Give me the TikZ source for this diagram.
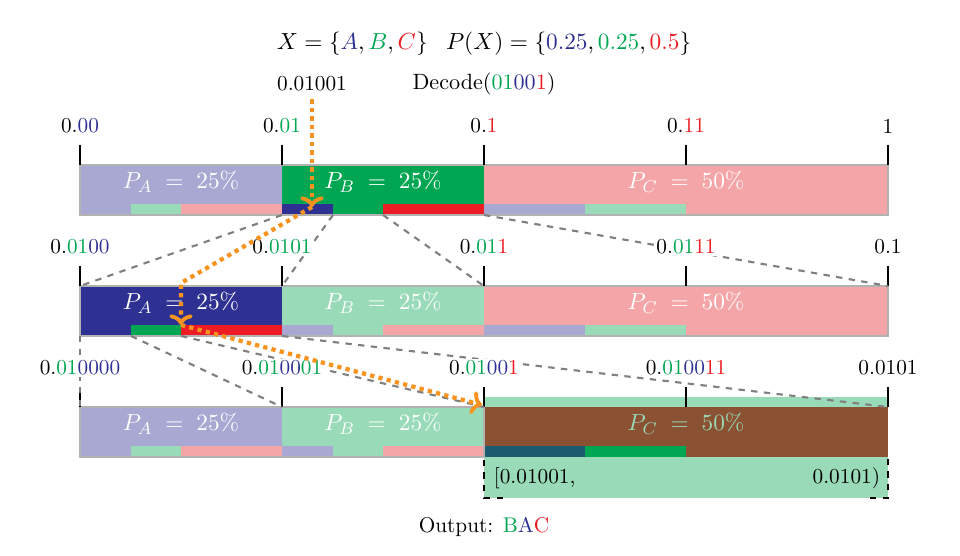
\documentclass[tikz,border=0pt]{standalone}
\usepackage{tikz}
\usetikzlibrary{arrows.meta}
\definecolor{darkA}{HTML}{2E3192}
\definecolor{lightA}{HTML}{A8A8D2}
\definecolor{darkB}{HTML}{00A651}
\definecolor{lightB}{HTML}{99DAB8}
\definecolor{darkC}{HTML}{ED1C24}
\definecolor{lightC}{HTML}{F4A5A8}
\definecolor{chosenC}{HTML}{8A5133}
\definecolor{chosenA}{HTML}{1C5B70}
\definecolor{walk}{HTML}{F7931E}
\tikzset{
every picture/.style={x=0.47pt, y=-0.47pt, line width=0.8pt},
%%%%%%%%%%  Node styles
bound/.style={inner sep=1pt, fill=white},
prob/.style={text=white, font=\fontsize{10.8}{13}\selectfont},
%%%% different line styles:
tick/.style={line width=1.2pt},
outline/.style={draw=black!30, line width=0.5pt},
zoomline/.style={dashed, black!50, line width=1pt},
frame/.style={dashed, line width=1.2pt},
decode/.style={walk, dotted, line width=2pt,
               -{Computer Modern Rightarrow[length=5pt,width=11pt,line width=1.8pt]}},
}
\newcommand{\colA}[1]{{\color{darkA}#1}}
\newcommand{\colB}[1]{{\color{darkB}#1}}
\newcommand{\colC}[1]{{\color{darkC}#1}}
%%%%%%% one interval: left, right, top, fill, strip colours
\newcommand{\intervalbar}[7]{%
  \fill[#4] ({#1},{#3}) rectangle ({#2},{#3+50});
  \fill[#5] ({#1},{#3+39}) rectangle ({#1+0.25*(#2-#1)},{#3+50});
  \fill[#6] ({#1+0.25*(#2-#1)},{#3+39}) rectangle ({#1+0.5*(#2-#1)},{#3+50});
  \fill[#7] ({#1+0.5*(#2-#1)},{#3+39}) rectangle ({#2},{#3+50});
}

\begin{document}
\begin{tikzpicture}
\useasboundingbox (0,0) rectangle (960,556);
\node[font=\fontsize{10.8}{13}\selectfont] (title) at (484,44)
  {$X=\{\colA{A},\colB{B},\colC{C}\}\hspace{0.8em}P(X)=\{\colA{0.25},\colB{0.25},\colC{0.5}\}$};
\node (code) at (312,84) {0.01001};
\node[font=\fontsize{10.4}{12}\selectfont] (decode) at (484,84) {Decode(\colB{01}\colA{00}\colC{1})};
\fill[lightB] (484,397) rectangle (888,498);
\intervalbar{80}{282}{165}{lightA}{lightA}{lightB}{lightC}
\intervalbar{282}{484}{165}{darkB}{darkA}{darkB}{darkC}
\intervalbar{484}{888}{165}{lightC}{lightA}{lightB}{lightC}
\intervalbar{80}{282}{286}{darkA}{darkA}{darkB}{darkC}
\intervalbar{282}{484}{286}{lightB}{lightA}{lightB}{lightC}
\intervalbar{484}{888}{286}{lightC}{lightA}{lightB}{lightC}
\intervalbar{80}{282}{407}{lightA}{lightA}{lightB}{lightC}
\intervalbar{282}{484}{407}{lightB}{lightA}{lightB}{lightC}
\intervalbar{484}{888}{407}{chosenC}{chosenA}{darkB}{chosenC}
\draw[outline] (80,165) rectangle (888,215);
\draw[outline] (80,286) rectangle (888,336);
\draw[outline] (80,407) rectangle (484,457);
\foreach \r/\y in {1/165,2/286,3/407}
  \foreach \x [count=\i from 0] in {80,282,484,686,888}
    \draw[tick] (\x,\y-20) -- (\x,\y) coordinate (t\r\i);
\coordinate (z1a) at (282,215);
\coordinate (z1b) at (333,215);
\coordinate (z1c) at (383,215);
\coordinate (z1d) at (484,215);
\coordinate (z2a) at (80,336);
\coordinate (z2b) at (131,336);
\coordinate (z2c) at (181,336);
\coordinate (z2d) at (282,336);
\draw[zoomline] (z1a) -- (t20);
\draw[zoomline] (z1b) -- (t21);
\draw[zoomline] (z1c) -- (t22);
\draw[zoomline] (z1d) -- (t24);
\draw[zoomline] (z2a) -- (t30);
\draw[zoomline] (z2b) -- (t31);
\draw[zoomline] (z2c) -- (t32);
\draw[zoomline] (z2d) -- (t34);
\node[bound] (l10) at (80,126) {0.\colA{00}};
\node[bound] (l11) at (282,126) {0.\colB{01}};
\node[bound] (l12) at (484,126) {0.\colC{1}};
\node[bound] (l13) at (686,126) {0.\colC{11}};
\node[bound] (l14) at (888,126) {1};
\node[bound] (l20) at (80,247) {0.\colB{01}\colA{00}};
\node[bound] (l21) at (282,247) {0.\colB{0101}};
\node[bound] (l22) at (484,247) {0.\colB{01}\colC{1}};
\node[bound] (l23) at (686,247) {0.\colB{01}\colC{11}};
\node[bound] (l24) at (888,247) {0.1};
\node[bound] (l30) at (80,368) {0.\colB{01}\colA{0000}};
\node[bound] (l31) at (282,368) {0.\colB{01}\colA{00}\colB{01}};
\node[bound] (l32) at (484,368) {0.\colB{01}\colA{00}\colC{1}};
\node[bound] (l33) at (686,368) {0.\colB{01}\colA{00}\colC{11}};
\node[bound] (l34) at (888,368) {0.0101};
\node[prob] (pa1) at (181,182) {$P_A\;=\;25\%$};
\node[prob] (pb1) at (383,182) {$P_B\;=\;25\%$};
\node[prob] (pc1) at (686,182) {$P_C\;=\;50\%$};
\node[prob] (pa2) at (181,303) {$P_A\;=\;25\%$};
\node[prob] (pb2) at (383,303) {$P_B\;=\;25\%$};
\node[prob] (pc2) at (686,303) {$P_C\;=\;50\%$};
\node[prob] (pa3) at (181,424) {$P_A\;=\;25\%$};
\node[prob] (pb3) at (383,424) {$P_B\;=\;25\%$};
\node[prob, text=lightB] (pc3) at (686,424) {$P_C\;=\;50\%$};
\draw[frame] (503,498) -| (484,457);
\draw[frame] (870,498) -| (888,457);
\node[anchor=west] (low) at (486,478) {[0.01001,};
\node[anchor=east] (high) at (888,478) {0.0101)};
\node (output) at (484,527) {Output: \colB{B}\colA{A}\colC{C}};
\coordinate (v1) at (312,207);
\coordinate (v1b) at (181,283);
\coordinate (v2) at (181,325);
\coordinate (v3) at (482,405);
\draw[decode] (code) -- (v1);
\draw[decode] (v1) -- (v1b) -- (v2);
\draw[decode] (v2) -- (v3);
\end{tikzpicture}
\end{document}
